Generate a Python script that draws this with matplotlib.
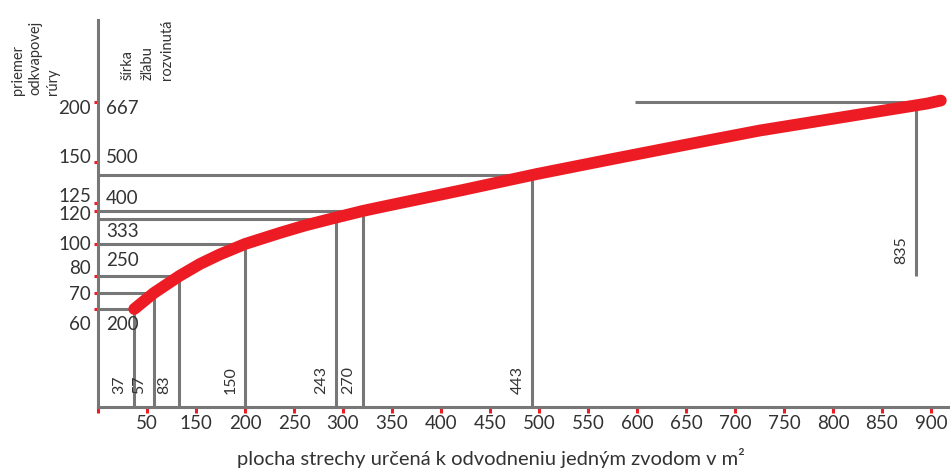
import numpy as np
import matplotlib
matplotlib.use("Agg")
import matplotlib.pyplot as plt

# ---------------- data ----------------
area_ticks = list(range(0, 851, 50))
area_tick_labels = [""] + ["50"] + [str(v) for v in range(150, 901, 50)]

diam_ticks = [60, 70, 80, 100, 120, 125, 150, 200]
diam_tick_labels = ["60", "70", "80", "100", "120", "125", "150", "200"]

gutter_widths = ["200", "250", "333", "400", "500", "667"]
gutter_rows = [60, 80, 100, 125, 150, 200]

ref_area = [37, 57, 83, 150, 243, 270, 443, 835]
ref_diam = [60, 70, 80, 100, 115, 120, 142, 200]
ref_hline_from = [0, 0, 0, 0, 0, 0, 0, 548]
ref_vline_to = [0, 0, 0, 0, 0, 0, 0, 80]

curve_area = [37, 57, 83, 104, 124, 150, 186, 211, 240, 270, 289, 372, 448,
              525, 601, 675, 767, 846, 860]
curve_diam = [60, 70, 80, 87.5, 93.4, 100, 106.8, 111.2, 115.6, 120, 122.5, 132.9,
              142.7, 152.5, 164.6, 176.2, 188.3, 198.7, 201.2]

# ---------------- style ----------------
RED = "#ED1C24"
GRAY = "#777777"
TXT = "#333333"
plt.rcParams["font.family"] = ["Lato", "DejaVu Sans"]

W, H = 950, 468
fig = plt.figure(figsize=(W / 100, H / 100), dpi=100)
fig.patch.set_facecolor("white")

ax_l, ax_b, ax_r, ax_t = 98, 407, 950, 20
ax = fig.add_axes([ax_l / W, (H - ax_b) / H, (ax_r - ax_l) / W, (ax_b - ax_t) / H])
ax.set_facecolor("none")

# non-linear diameter scale as drawn in the original nomogram
D_ANCH = [-100, 0, 60, 70, 80, 100, 120, 125, 150, 200, 400]
H_ANCH = [-163, 0, 98, 114, 131, 163, 196, 204, 245, 305, 549]
fwd = lambda d: np.interp(d, D_ANCH, H_ANCH)
inv = lambda h: np.interp(h, H_ANCH, D_ANCH)
ax.set_yscale("function", functions=(fwd, inv))

ax.set_xlim(0, (ax_r - ax_l) * 50 / 49)
ax.set_ylim(0, inv(387))

# reference lines
for a, d, x0, y1 in zip(ref_area, ref_diam, ref_hline_from, ref_vline_to):
    ax.plot([x0, a], [d, d], color=GRAY, lw=2.2, solid_capstyle="butt", zorder=2)
    ax.plot([a, a], [y1, d], color=GRAY, lw=2.2, solid_capstyle="butt", zorder=2)
    ax.annotate(str(a), xy=(a, y1), xytext=(-5.5, 9), textcoords="offset points",
                rotation=90, ha="right", va="bottom", fontsize=11.5, color=TXT)

# curve
ax.plot(curve_area, curve_diam, color=RED, lw=8.5, solid_capstyle="round",
        solid_joinstyle="round", zorder=3)

# spines / ticks
for s in ["top", "right"]:
    ax.spines[s].set_visible(False)
for s in ["left", "bottom"]:
    ax.spines[s].set_color(GRAY)
    ax.spines[s].set_linewidth(2.2)
    ax.spines[s].set_zorder(2.5)

ax.set_xticks(area_ticks)
ax.set_xticklabels(area_tick_labels, fontsize=13.5, color=TXT)
ax.tick_params(axis="x", direction="out", length=4.3, width=2.2, color=RED, pad=1.5)
ax.set_yticks(diam_ticks)
ax.set_yticklabels([""] * len(diam_ticks))
ax.tick_params(axis="y", direction="out", length=3.2, width=2.2, color=RED, pad=1)
ax.minorticks_off()

# diameter labels (left of axis); 125 and 120 are stacked in one block
single = [(60, "60", -15), (70, "70", -1), (80, "80", 7), (100, "100", 0),
          (150, "150", 4.5), (200, "200", -6)]
for d, lab, dy in single:
    ax.annotate(lab, xy=(0, d), xytext=(-7 * 0.72, dy * 0.72), textcoords="offset points",
                ha="right", va="center", fontsize=13.5, color=TXT, annotation_clip=False)
ax.annotate("125\n120", xy=(0, 122.5), xytext=(-7 * 0.72, 1.5 * 0.72),
            textcoords="offset points", ha="right", va="center", multialignment="right",
            fontsize=13.5, color=TXT, linespacing=1.08, annotation_clip=False)

# gutter widths (right of axis)
gutter_dy = [-15, 15, 13, 4, 4.5, -6]
for lab, d, dy in zip(gutter_widths, gutter_rows, gutter_dy):
    ax.annotate(lab, xy=(0, d), xytext=(8 * 0.72, dy * 0.72), textcoords="offset points",
                ha="left", va="center", fontsize=13.5, color=TXT)

# axis titles
fig.text(11 / W, (H - 95) / H, "priemer\nodkvapovej\nrúry", rotation=90,
         ha="left", va="bottom", multialignment="left", fontsize=10.5, color=TXT,
         linespacing=1.3)
fig.text(121 / W, (H - 80) / H, "šírka\nžľabu\nrozvinutá", rotation=90,
         ha="left", va="bottom", multialignment="left", fontsize=10.5, color=TXT,
         linespacing=1.5)
fig.text(491 / W, (H - 458) / H, "plocha strechy určená k odvodneniu jedným zvodom v m²",
         ha="center", va="center", fontsize=14.5, color=TXT)

fig.savefig("out.png", dpi=100)
